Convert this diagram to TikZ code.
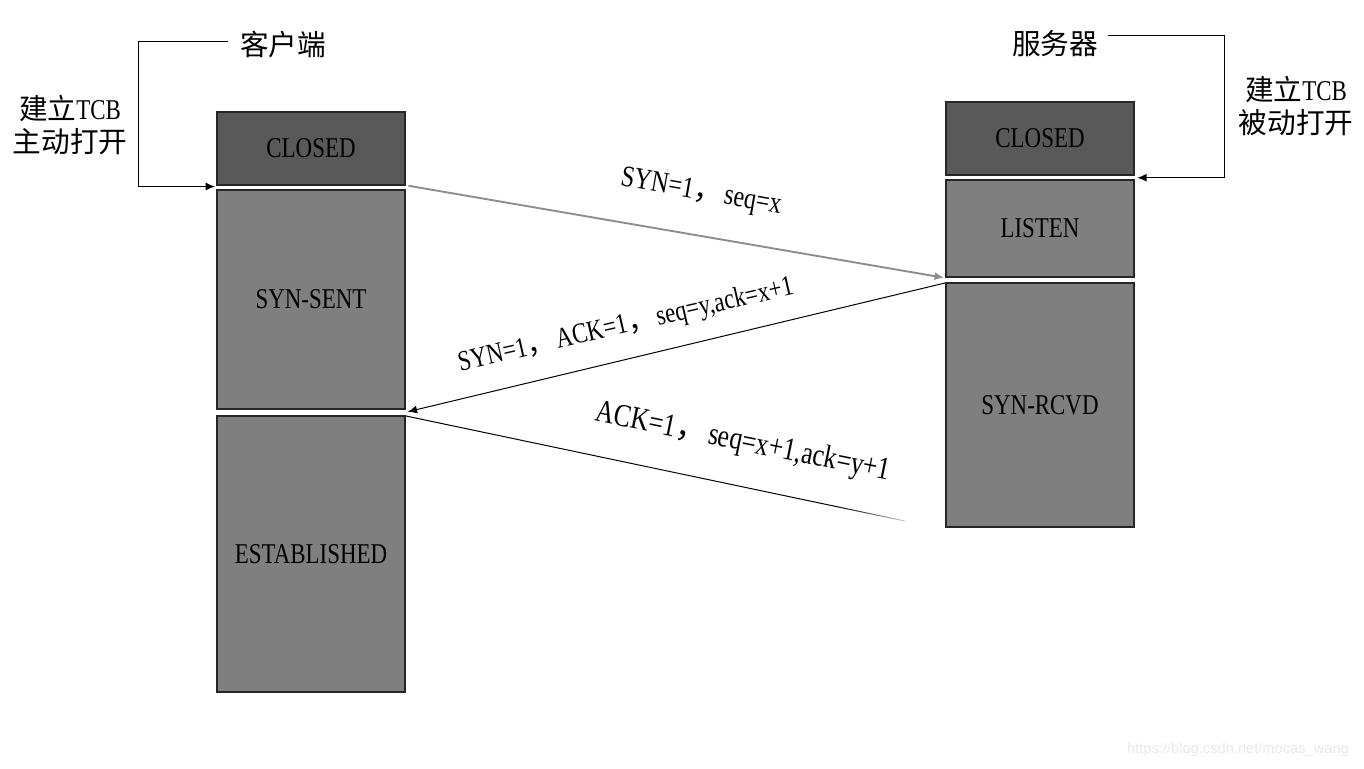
\documentclass[tikz,border=0pt]{standalone}
\usepackage{fontspec}
\setmainfont{Liberation Serif}[FakeStretch=0.8]
\newfontfamily\cjk{Noto Sans CJK SC}
\newfontfamily\wmfont{Liberation Sans}
\usetikzlibrary{arrows.meta,calc}
\definecolor{darkbox}{HTML}{595959}
\definecolor{midbox}{HTML}{7F7F7F}
\definecolor{wmgray}{HTML}{E8E8E8}
\tikzset{
  lbl/.style={font=\fontsize{21.5}{26}\selectfont, text=black, inner sep=0pt, align=center},
  box/.style={draw=black!85, line width=1.1pt, minimum width=141pt, inner sep=0pt,
              font=\fontsize{21.5}{26}\selectfont, text=black},
  arr/.style={-{Latex[length=7pt,width=6pt]}, line width=0.75pt, black},
  msg/.style={lbl}
}
\newcommand{\fwcomma}{{\cjk ，}\hspace{0.05em}}
\begin{document}
\begin{tikzpicture}[x=0.75pt,y=-0.75pt]
\useasboundingbox (0,0) rectangle (1364,768);
% client boxes
\node[box, fill=darkbox, minimum height=54.75pt] (cC) at (311,148.5) {CLOSED};
\node[box, fill=midbox, minimum height=164.25pt] (cS) at (311,299.5) {SYN-SENT};
\node[box, fill=midbox, minimum height=207pt] (cE) at (311,554) {ESTABLISHED};
% server boxes
\node[box, fill=darkbox, minimum height=54.75pt] (sC) at (1040,138.5) {CLOSED};
\node[box, fill=midbox, minimum height=72.75pt] (sL) at (1040,228.5) {LISTEN};
\node[box, fill=midbox, minimum height=183pt] (sR) at (1040,405) {SYN-RCVD};
% headings
\node[lbl] (kh) at (283,45) {\cjk 客户端};
\node[lbl] (kt) at (70,125) {\cjk 建立\rmfamily TCB\\[-1pt]\cjk 主动打开};
\node[lbl] (fw) at (1055,44) {\cjk 服务器};
\node[lbl] (ft) at (1296,106) {\cjk 建立\rmfamily TCB\\[-1pt]\cjk 被动打开};
% brackets
\coordinate (lk) at (228,41);
\coordinate (rk) at (1108,35);
\draw[arr] (lk) -- (138,41) |- ([xshift=-1pt,yshift=-0.6pt]cC.south west);
\draw[arr] (rk) -- (1224,35) |- ([xshift=2pt,yshift=-1.5pt]sC.south east);
% messages
\draw[-{Latex[length=7pt,width=6pt]}, line width=1.4pt, color=midbox!90]
  ([xshift=2pt]cC.south east) -- ([xshift=-1pt]sL.south west);
\draw[arr] ([yshift=-0.5pt]sR.north west) -- ([xshift=1.5pt,yshift=-1.5pt]cS.south east);
\coordinate (ackstart) at ([yshift=-0.5pt]cE.north east);
\coordinate (ackend) at (905,521);
\draw[line width=0.75pt, black] (ackstart) -- ($(ackstart)!0.86!(ackend)$);
\foreach \i in {0,...,13}{
  \pgfmathsetmacro{\ta}{0.86+\i*0.01}
  \pgfmathsetmacro{\tb}{0.86+(\i+1)*0.01}
  \pgfmathsetmacro{\sh}{100-\i*6}
  \draw[line width=0.75pt, black!\sh] ($(ackstart)!\ta!(ackend)$) -- ($(ackstart)!\tb!(ackend)$);
}
\node[msg, font=\fontsize{22.5}{26}\selectfont, rotate=-10] (m1) at (701,193) {SYN=1\fwcomma seq=x};
\node[msg, rotate=13] (m2) at (626,326) {SYN=1\fwcomma ACK=1\fwcomma seq=y,ack=x+1};
\node[msg, font=\fontsize{24}{28}\selectfont, rotate=-11.5] (m3) at (743,443) {ACK=1\fwcomma seq=x+1,ack=y+1};
% watermark
\node[font=\wmfont\fontsize{11}{13}\selectfont, text=wmgray, inner sep=0pt] (wm) at (1238,750) {https://blog.csdn.net/mocas\_wang};
\end{tikzpicture}
\end{document}
